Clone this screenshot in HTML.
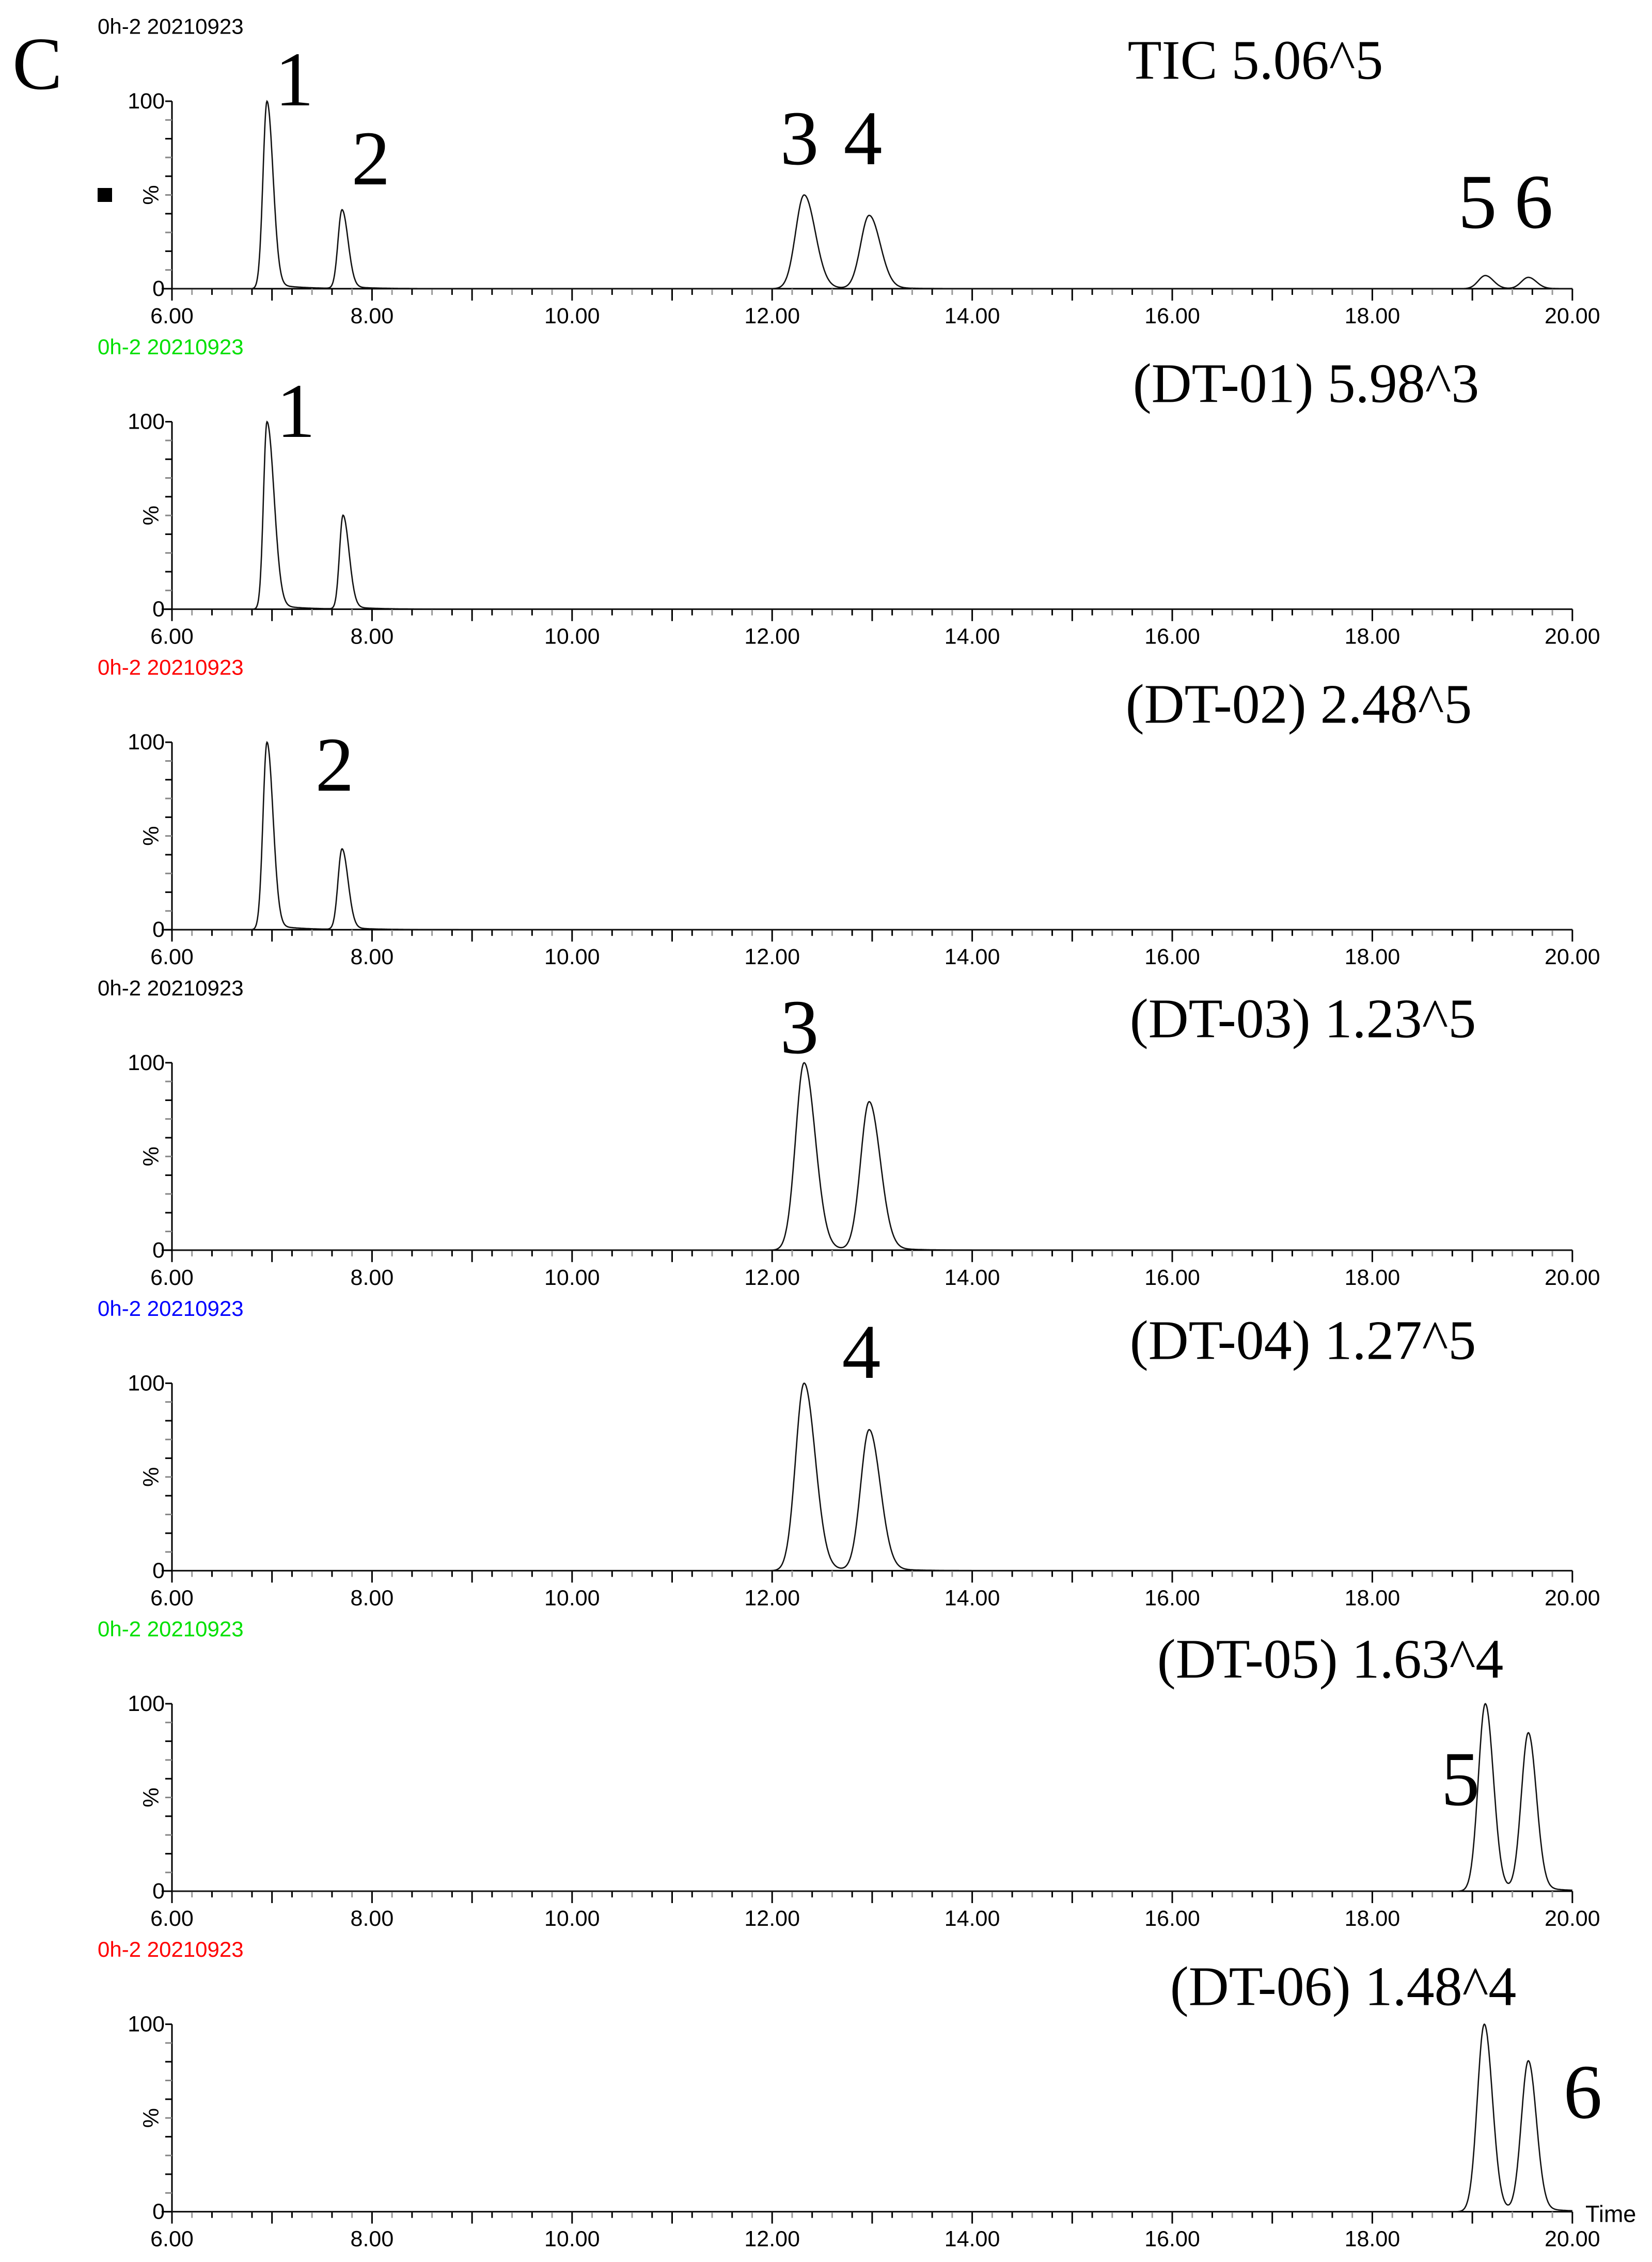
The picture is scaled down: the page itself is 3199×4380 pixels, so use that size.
<!DOCTYPE html>
<html><head><meta charset="utf-8">
<style>
html,body{margin:0;padding:0;background:#fff;}
svg{display:block;}
</style></head>
<body>
<svg id="chart" width="3199" height="4380" viewBox="0 0 3199 4380" xmlns="http://www.w3.org/2000/svg">
<text x="24" y="172" font-family="Liberation Serif, serif" font-size="145">C</text>
<rect x="189" y="364" width="28" height="27" fill="#000"/>
</svg>
<script>
// ---- data ----
const panelTitles = ["TIC 5.06^5","(DT-01) 5.98^3","(DT-02) 2.48^5","(DT-03) 1.23^5","(DT-04) 1.27^5","(DT-05) 1.63^4","(DT-06) 1.48^4"];
const headerColors = ["#000","#00e000","#ff0000","#000","#0000ff","#00e000","#ff0000"];
const peakTimes = [[6.95,7.70,12.32,12.97,19.13,19.56],[6.95,7.71],[6.95,7.70],[12.32,12.97],[12.32,12.97],[19.13,19.56],[19.12,19.56]];
const peakHeights = [[100,42,50,39,7,6],[100,50],[100,43],[100,79],[100,75],[100,84],[100,80]];
const peakWidthsL = [[0.04,0.04,0.085,0.085,0.07,0.07],[0.035,0.035],[0.04,0.04],[0.085,0.085],[0.085,0.085],[0.07,0.07],[0.07,0.07]];
const peakWidthsR = [[0.06,0.06,0.11,0.11,0.08,0.08],[0.07,0.06],[0.06,0.06],[0.11,0.11],[0.11,0.11],[0.08,0.08],[0.08,0.08]];
const xTickLabels = ["6.00","8.00","10.00","12.00","14.00","16.00","18.00","20.00"];
const peakLabels = [["1","2","3","4","5","6"],["1"],["2"],["3"],["4"],["5"],["6"]];
// label anchor positions (screen px)
const peakLabelPos = [[[570,154],[718,307],[1548,268],[1671,268],[2861,391],[2970,391]],[[573,796]],[[648,1481]],[[1548,1989]],[[1668,2618]],[[2828,3445]],[[3065,4051]]];
const titlePos = [[2431,117],[2529,743],[2515,1364],[2523,1973],[2523,2596],[2576,3213],[2601,3847]];

const NS="http://www.w3.org/2000/svg";
const svg=document.getElementById('chart');
const X0=333, PXMIN=193.7, TMIN=6, TMAX=20;
const PH=363, BASE0=559, STEP=620.6;
function xS(t){return X0+(t-TMIN)*PXMIN;}
function yS(p,v){return BASE0+p*STEP - v/100*PH;}
function mk(tag,attrs,parent){const e=document.createElementNS(NS,tag);for(const k in attrs)e.setAttribute(k,attrs[k]);(parent||svg).appendChild(e);return e;}

for(let p=0;p<7;p++){
  const g=mk('g',{});
  
  
  const base=yS(p,0);
  // header
  const h=mk('text',{x:189,y:base-508,'font-family':'Liberation Sans, sans-serif','font-size':42,fill:headerColors[p],'dominant-baseline':'central'},g);
  h.textContent="0h-2 20210923";
  
  
  // title
  const tt=mk('text',{x:titlePos[p][0],y:titlePos[p][1],'font-family':'Liberation Serif, serif','font-size':108,'text-anchor':'middle','dominant-baseline':'central'},g);
  tt.textContent=panelTitles[p];
  
  
  // y axis
  const ya=mk('line',{x1:X0,y1:yS(p,100),x2:X0,y2:base+22,stroke:'#000','stroke-width':3},g);
  
  
  for(let v=0;v<=100;v+=10){
    mk('line',{x1:X0-13,y1:yS(p,v),x2:X0,y2:yS(p,v),stroke:(v%20==0?'#000':'#888'),'stroke-width':3},g);
  }
  [[0,"0"],[100,"100"]].forEach(([v,s])=>{
    const t=mk('text',{x:X0-14,y:yS(p,v),'font-family':'Liberation Sans, sans-serif','font-size':43,'text-anchor':'end','dominant-baseline':'central'},g);
    t.textContent=s;
    
    
  });
  const pc=mk('text',{x:0,y:0,'font-family':'Liberation Sans, sans-serif','font-size':43,'text-anchor':'middle','dominant-baseline':'central',transform:`translate(${X0-40},${yS(p,50)}) rotate(-90)`},g);
  pc.textContent="%";
  
  
  // x axis
  const xa=mk('line',{x1:X0-20,y1:base,x2:xS(TMAX),y2:base,stroke:'#000','stroke-width':3},g);
  
  
  for(let i=0;i<=70;i++){
    const t=TMIN+i*0.2; const major=(i%5==0);
    mk('line',{x1:xS(t),y1:base,x2:xS(t),y2:base+(major?23:12),stroke:(major||i%2==0?'#000':'#999'),'stroke-width':3},g);
  }
  xTickLabels.forEach((s,i)=>{
    const t=mk('text',{x:xS(parseFloat(s)),y:base+53,'font-family':'Liberation Sans, sans-serif','font-size':43,'text-anchor':'middle','dominant-baseline':'central'},g);
    t.textContent=s;
    
    
  });
  // trace
  let d='';
  for(let t=TMIN;t<=TMAX+1e-9;t+=0.005){
    let v=0;
    for(let k=0;k<peakTimes[p].length;k++){
      const dt=t-peakTimes[p][k]; const s=dt<0?peakWidthsL[p][k]:peakWidthsR[p][k];
      v+=peakHeights[p][k]*Math.exp(-dt*dt/(2*s*s));
      if(dt>0) v+=peakHeights[p][k]*0.03*Math.exp(-dt/0.25)*(1-Math.exp(-dt*dt/(2*s*s)));
    }
    d+=(d?'L':'M')+xS(t).toFixed(1)+' '+yS(p,v).toFixed(1);
  }
  const tr=mk('path',{d:d,fill:'none',stroke:'#111','stroke-width':2.6},g);
  
  
  // peak labels
  peakLabels[p].forEach((s,k)=>{
    const t=mk('text',{x:peakLabelPos[p][k][0],y:peakLabelPos[p][k][1],'font-family':'Liberation Serif, serif','font-size':150,'text-anchor':'middle','dominant-baseline':'central'},g);
    t.textContent=s;
    
    
  });
}
const tm=mk('text',{x:3070,y:4287,'font-family':'Liberation Sans, sans-serif','font-size':45,'dominant-baseline':'central'});
tm.textContent="Time";


</script>
</body></html>
